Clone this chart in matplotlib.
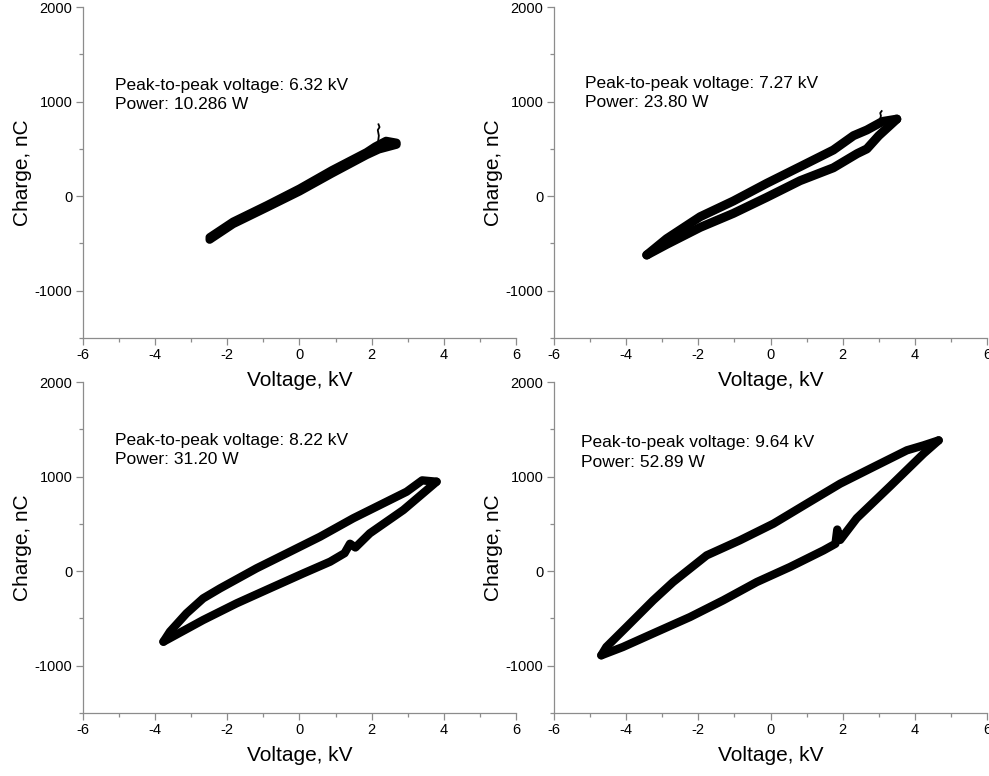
"""Q-V Lissajous figures of the DBD reactor at four applied voltages (2x2 panels)."""
import matplotlib

matplotlib.use("Agg")
import matplotlib.pyplot as plt  # noqa: E402

plt.rcParams["font.family"] = ["Liberation Sans", "DejaVu Sans"]
plt.rcParams["axes.unicode_minus"] = False

# ---- data: loop branches (voltage kV, charge nC) ----
# panel 1: 6.32 kV, 10.286 W
P1_UP_V = [2.69, 2.40, 2.10, 1.86, 0.90, 0.0, -0.90, -1.84, -2.49]
P1_UP_Q = [565, 585, 525, 465, 275, 80, -95, -270, -435]
P1_LO_V = [-2.49, -1.84, -0.90, 0.0, 0.90, 1.86, 2.20, 2.69]
P1_LO_Q = [-460, -295, -120, 50, 240, 435, 495, 545]
P1_SPIKE_V = [2.16, 2.20, 2.17, 2.22, 2.19]
P1_SPIKE_Q = [520, 640, 700, 730, 760]

# panel 2: 7.27 kV, 23.80 W
P2_UP_V = [3.50, 3.10, 2.67, 2.30, 1.74, 0.82, -0.11, -1.03, -1.95, -2.88, -3.43]
P2_UP_Q = [815, 790, 700, 640, 488, 312, 135, -51, -217, -450, -622]
P2_LO_V = [-3.43, -2.88, -1.95, -1.03, -0.11, 0.82, 1.74, 2.40, 2.67, 3.00, 3.50]
P2_LO_Q = [-622, -510, -330, -182, -13, 164, 300, 450, 500, 640, 815]
P2_SPIKE_V = [3.02, 3.06, 3.04, 3.08]
P2_SPIKE_Q = [790, 850, 880, 900]

# panel 3: 8.22 kV, 31.20 W
P3_UP_V = [3.80, 3.40, 2.97, 1.49, 0.57, -0.35, -1.19, -2.20, -2.67, -3.13, -3.59, -3.77]
P3_UP_Q = [946, 960, 840, 559, 364, 189, 30, -182, -288, -446, -640, -746]
P3_LO_V = [-3.77, -2.67, -1.74, -0.82, 0.11, 0.85, 1.25, 1.40, 1.55, 1.95, 2.88, 3.53, 3.80]
P3_LO_Q = [-746, -517, -340, -182, -23, 100, 190, 290, 250, 400, 647, 858, 946]

# panel 4: 9.64 kV, 52.89 W
P4_UP_V = [4.66, 4.24, 3.78, 2.85, 1.93, 1.00, 0.08, -0.85, -1.77, -2.70, -3.25, -3.99, -4.55, -4.69]
P4_UP_Q = [1383, 1330, 1278, 1101, 925, 713, 502, 326, 167, -115, -308, -590, -802, -890]
P4_LO_V = [-4.69, -4.09, -3.16, -2.23, -1.31, -0.38, 0.54, 1.47, 1.80, 1.85, 1.93, 2.39,
           3.32, 4.24, 4.66]
P4_LO_Q = [-890, -802, -643, -485, -308, -115, 44, 220, 290, 440, 330, 560,
           900, 1242, 1383]

VPP = ["6.32", "7.27", "8.22", "9.64"]
POWER = ["10.286", "23.80", "31.20", "52.89"]

# text anchor (data coords) per panel
TXT_POS = [(-5.1, 1255), (-5.15, 1275), (-5.1, 1465), (-5.25, 1435)]

AX_POS = [[0.0839, 0.5644, 0.4378, 0.4265], [0.5602, 0.5644, 0.4378, 0.4265],
          [0.0839, 0.0812, 0.4378, 0.4265], [0.5602, 0.0812, 0.4378, 0.4265]]
LOOP_LW = [6.0, 6.5, 6.0, 6.0]

GREY = "#8c8c8c"


def style(ax):
    ax.set_facecolor("none")
    for s in ("top", "right"):
        ax.spines[s].set_visible(False)
    for s in ("left", "bottom"):
        ax.spines[s].set_color(GREY)
        ax.spines[s].set_linewidth(0.9)
    ax.set_xlim(-6, 6)
    ax.set_ylim(-1500, 2000)
    ax.set_xticks(range(-6, 7, 2))
    ax.set_xticks(range(-5, 6, 2), minor=True)
    ax.set_yticks([-1000, 0, 1000, 2000])
    ax.set_yticks([-1500, -500, 500, 1500], minor=True)
    ax.tick_params(which="major", direction="out", length=5, width=0.9, color=GREY,
                   labelsize=10.5, pad=2.5)
    ax.tick_params(which="minor", direction="out", length=3, width=0.9, color=GREY)
    ax.set_xlabel("Voltage, kV", fontsize=15)
    ax.set_ylabel("Charge, nC", fontsize=15)
    ax.xaxis.set_label_coords(0.5, -33 / 331)
    ax.yaxis.set_label_coords(-51 / 433, 0.5)
    for lab in ax.get_xticklabels() + ax.get_yticklabels():
        lab.set_clip_on(False)


fig = plt.figure(figsize=(9.89, 7.76), dpi=100)
loops = [
    (P1_UP_V, P1_UP_Q, P1_LO_V, P1_LO_Q),
    (P2_UP_V, P2_UP_Q, P2_LO_V, P2_LO_Q),
    (P3_UP_V, P3_UP_Q, P3_LO_V, P3_LO_Q),
    (P4_UP_V, P4_UP_Q, P4_LO_V, P4_LO_Q),
]
for i, (uv, uq, lv, lq) in enumerate(loops):
    ax = fig.add_axes(AX_POS[i])
    style(ax)
    kw = dict(color="black", lw=LOOP_LW[i], solid_joinstyle="round", solid_capstyle="round")
    ax.plot(uv, uq, **kw)
    ax.plot(lv, lq, **kw)
    if i == 0:
        ax.plot(P1_SPIKE_V, P1_SPIKE_Q, color="black", lw=1.3)
    if i == 1:
        ax.plot(P2_SPIKE_V, P2_SPIKE_Q, color="black", lw=1.3)
    tx, ty = TXT_POS[i]
    ax.text(tx, ty, f"Peak-to-peak voltage: {VPP[i]} kV\nPower: {POWER[i]} W",
            fontsize=12.5, va="top", ha="left", linespacing=1.35)

fig.savefig("out.png", dpi=100)
